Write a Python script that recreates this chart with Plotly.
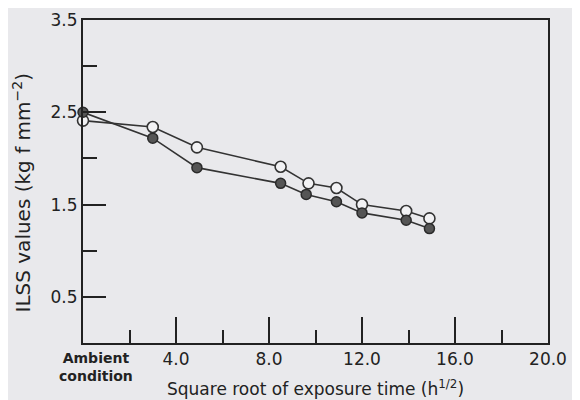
import plotly.graph_objects as go

# Square root of exposure time (h^1/2); 0 = ambient condition
x_open = [0.0, 3.0, 4.9, 8.5, 9.7, 10.9, 12.0, 13.9, 14.9]
ilss_open = [2.41, 2.34, 2.12, 1.91, 1.73, 1.68, 1.50, 1.43, 1.35]

x_filled = [0.0, 3.0, 4.9, 8.5, 9.6, 10.9, 12.0, 13.9, 14.9]
ilss_filled = [2.50, 2.22, 1.90, 1.73, 1.61, 1.53, 1.41, 1.33, 1.24]

x_tickvals = [4, 8, 12, 16, 20]
x_ticktext = ["4.0", "8.0", "12.0", "16.0", "20.0"]
x_minor = [2, 6, 10, 14, 18]
y_tickvals = [0.5, 1.5, 2.5, 3.5]
y_ticktext = ["0.5", "1.5", "2.5", "3.5"]
y_minor = [1.0, 2.0, 3.0]

BG = "#e9e9ec"
INK = "#222222"

fig = go.Figure()
fig.add_trace(go.Scatter(
    x=x_open, y=ilss_open, mode="lines+markers", cliponaxis=False,
    line=dict(color="#333333", width=1.6),
    marker=dict(symbol="circle", size=11, color="#f2f2f4",
                line=dict(color="#333333", width=1.6)),
    showlegend=False))
fig.add_trace(go.Scatter(
    x=x_filled, y=ilss_filled, mode="lines+markers", cliponaxis=False,
    line=dict(color="#333333", width=1.6),
    marker=dict(symbol="circle", size=10, color="#555555",
                line=dict(color="#2a2a2a", width=1.5)),
    showlegend=False))

FAM = "DejaVu Sans, Arial, sans-serif"
font = dict(family=FAM, color=INK)

fig.update_layout(
    width=580, height=400,
    margin=dict(l=75, r=40, t=12, b=65),
    paper_bgcolor=BG, plot_bgcolor=BG,
    font=dict(**font, size=17),
    xaxis=dict(
        range=[0, 20], showgrid=False, zeroline=False, automargin=False,
        showline=True, linecolor=INK, linewidth=2, mirror=True,
        tickmode="array", tickvals=x_tickvals, ticktext=x_ticktext,
        ticks="inside", ticklen=26, tickwidth=2, tickcolor=INK,
        tickfont=dict(**font, size=17),
        minor=dict(tickmode="array", tickvals=x_minor, ticks="inside",
                   ticklen=13, tickwidth=2, tickcolor=INK, showgrid=False),
    ),
    yaxis=dict(
        range=[0, 3.5], showgrid=False, zeroline=False, automargin=False,
        showline=True, linecolor=INK, linewidth=2, mirror=True,
        tickmode="array", tickvals=y_tickvals, ticktext=y_ticktext,
        ticks="inside", ticklen=23, tickwidth=2, tickcolor=INK,
        tickfont=dict(**font, size=17),
        minor=dict(tickmode="array", tickvals=y_minor, ticks="inside",
                   ticklen=14, tickwidth=2, tickcolor=INK, showgrid=False),
    ),
    annotations=[
        dict(text="<b>Ambient</b><br><b>condition</b>", x=0, xref="x", y=0, yref="paper",
             xanchor="center", yanchor="top", xshift=13, yshift=-5,
             showarrow=False, font=dict(**font, size=14), align="center"),
        dict(text="Square root of exposure time (h<sup>1/2</sup>)",
             x=0.5, xref="paper", y=0, yref="paper", xanchor="center",
             yanchor="middle", yshift=-45, showarrow=False,
             font=dict(**font, size=17)),
        dict(text="ILSS values (kg f mm<sup>\u22122</sup>)",
             x=0, xref="paper", y=0.5, yref="paper", xanchor="center",
             yanchor="middle", xshift=-62, yshift=-12, textangle=-90,
             showarrow=False, font=dict(**font, size=20)),
    ],
)

fig.write_html("out.html")
